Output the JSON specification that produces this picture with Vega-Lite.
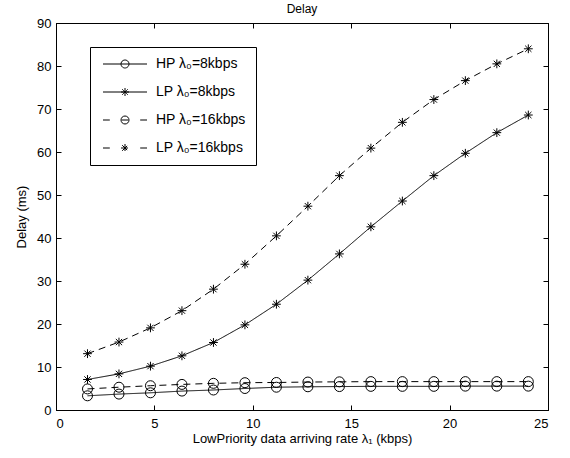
{
  "$schema": "https://vega.github.io/schema/vega-lite/v6.json",
  "width": 492,
  "height": 387,
  "autosize": "none",
  "padding": {"left": 56, "top": 23, "right": 22, "bottom": 48},
  "title": {"text": "Delay", "font": "Liberation Sans", "fontSize": 12, "fontWeight": "normal", "color": "black", "baseline": "bottom", "frame": "group", "offset": 9, "dy": 20},
  "config": {
    "view": {"stroke": "black", "strokeWidth": 1},
    "axis": {"domainColor": "black", "tickColor": "black", "labelColor": "black", "titleColor": "black", "labelFont": "Liberation Sans", "titleFont": "Liberation Sans", "labelFontSize": 13, "titleFontSize": 13, "titleFontWeight": "normal", "grid": false, "tickSize": -5, "labelPadding": 10}
  },
  "data": {"values": [
    {"rate": 1.6, "series": "HP λ₀=8kbps", "priority": "HP", "delay": 3.3},
    {"rate": 3.2, "series": "HP λ₀=8kbps", "priority": "HP", "delay": 3.7},
    {"rate": 4.8, "series": "HP λ₀=8kbps", "priority": "HP", "delay": 4.0},
    {"rate": 6.4, "series": "HP λ₀=8kbps", "priority": "HP", "delay": 4.4},
    {"rate": 8.0, "series": "HP λ₀=8kbps", "priority": "HP", "delay": 4.65},
    {"rate": 9.6, "series": "HP λ₀=8kbps", "priority": "HP", "delay": 5.0},
    {"rate": 11.2, "series": "HP λ₀=8kbps", "priority": "HP", "delay": 5.3},
    {"rate": 12.8, "series": "HP λ₀=8kbps", "priority": "HP", "delay": 5.4},
    {"rate": 14.4, "series": "HP λ₀=8kbps", "priority": "HP", "delay": 5.45},
    {"rate": 16.0, "series": "HP λ₀=8kbps", "priority": "HP", "delay": 5.5},
    {"rate": 17.6, "series": "HP λ₀=8kbps", "priority": "HP", "delay": 5.5},
    {"rate": 19.2, "series": "HP λ₀=8kbps", "priority": "HP", "delay": 5.5},
    {"rate": 20.8, "series": "HP λ₀=8kbps", "priority": "HP", "delay": 5.55},
    {"rate": 22.4, "series": "HP λ₀=8kbps", "priority": "HP", "delay": 5.55},
    {"rate": 24.0, "series": "HP λ₀=8kbps", "priority": "HP", "delay": 5.55},
    {"rate": 1.6, "series": "LP λ₀=8kbps", "priority": "LP", "delay": 7.1},
    {"rate": 3.2, "series": "LP λ₀=8kbps", "priority": "LP", "delay": 8.4},
    {"rate": 4.8, "series": "LP λ₀=8kbps", "priority": "LP", "delay": 10.2},
    {"rate": 6.4, "series": "LP λ₀=8kbps", "priority": "LP", "delay": 12.6},
    {"rate": 8.0, "series": "LP λ₀=8kbps", "priority": "LP", "delay": 15.7},
    {"rate": 9.6, "series": "LP λ₀=8kbps", "priority": "LP", "delay": 19.8},
    {"rate": 11.2, "series": "LP λ₀=8kbps", "priority": "LP", "delay": 24.6},
    {"rate": 12.8, "series": "LP λ₀=8kbps", "priority": "LP", "delay": 30.2},
    {"rate": 14.4, "series": "LP λ₀=8kbps", "priority": "LP", "delay": 36.3},
    {"rate": 16.0, "series": "LP λ₀=8kbps", "priority": "LP", "delay": 42.6},
    {"rate": 17.6, "series": "LP λ₀=8kbps", "priority": "LP", "delay": 48.6},
    {"rate": 19.2, "series": "LP λ₀=8kbps", "priority": "LP", "delay": 54.5},
    {"rate": 20.8, "series": "LP λ₀=8kbps", "priority": "LP", "delay": 59.7},
    {"rate": 22.4, "series": "LP λ₀=8kbps", "priority": "LP", "delay": 64.5},
    {"rate": 24.0, "series": "LP λ₀=8kbps", "priority": "LP", "delay": 68.6},
    {"rate": 1.6, "series": "HP λ₀=16kbps", "priority": "HP", "delay": 4.9},
    {"rate": 3.2, "series": "HP λ₀=16kbps", "priority": "HP", "delay": 5.3},
    {"rate": 4.8, "series": "HP λ₀=16kbps", "priority": "HP", "delay": 5.65},
    {"rate": 6.4, "series": "HP λ₀=16kbps", "priority": "HP", "delay": 5.95},
    {"rate": 8.0, "series": "HP λ₀=16kbps", "priority": "HP", "delay": 6.2},
    {"rate": 9.6, "series": "HP λ₀=16kbps", "priority": "HP", "delay": 6.35},
    {"rate": 11.2, "series": "HP λ₀=16kbps", "priority": "HP", "delay": 6.4},
    {"rate": 12.8, "series": "HP λ₀=16kbps", "priority": "HP", "delay": 6.5},
    {"rate": 14.4, "series": "HP λ₀=16kbps", "priority": "HP", "delay": 6.55},
    {"rate": 16.0, "series": "HP λ₀=16kbps", "priority": "HP", "delay": 6.6},
    {"rate": 17.6, "series": "HP λ₀=16kbps", "priority": "HP", "delay": 6.6},
    {"rate": 19.2, "series": "HP λ₀=16kbps", "priority": "HP", "delay": 6.6},
    {"rate": 20.8, "series": "HP λ₀=16kbps", "priority": "HP", "delay": 6.6},
    {"rate": 22.4, "series": "HP λ₀=16kbps", "priority": "HP", "delay": 6.6},
    {"rate": 24.0, "series": "HP λ₀=16kbps", "priority": "HP", "delay": 6.6},
    {"rate": 1.6, "series": "LP λ₀=16kbps", "priority": "LP", "delay": 13.1},
    {"rate": 3.2, "series": "LP λ₀=16kbps", "priority": "LP", "delay": 15.8},
    {"rate": 4.8, "series": "LP λ₀=16kbps", "priority": "LP", "delay": 19.1},
    {"rate": 6.4, "series": "LP λ₀=16kbps", "priority": "LP", "delay": 23.1},
    {"rate": 8.0, "series": "LP λ₀=16kbps", "priority": "LP", "delay": 28.1},
    {"rate": 9.6, "series": "LP λ₀=16kbps", "priority": "LP", "delay": 33.9},
    {"rate": 11.2, "series": "LP λ₀=16kbps", "priority": "LP", "delay": 40.5},
    {"rate": 12.8, "series": "LP λ₀=16kbps", "priority": "LP", "delay": 47.4},
    {"rate": 14.4, "series": "LP λ₀=16kbps", "priority": "LP", "delay": 54.5},
    {"rate": 16.0, "series": "LP λ₀=16kbps", "priority": "LP", "delay": 60.9},
    {"rate": 17.6, "series": "LP λ₀=16kbps", "priority": "LP", "delay": 66.9},
    {"rate": 19.2, "series": "LP λ₀=16kbps", "priority": "LP", "delay": 72.2},
    {"rate": 20.8, "series": "LP λ₀=16kbps", "priority": "LP", "delay": 76.6},
    {"rate": 22.4, "series": "LP λ₀=16kbps", "priority": "LP", "delay": 80.5},
    {"rate": 24.0, "series": "LP λ₀=16kbps", "priority": "LP", "delay": 84.0}
  ]},
  "layer": [
    {
      "mark": {"type": "line", "color": "black", "strokeWidth": 1},
      "encoding": {
        "x": {"field": "rate", "type": "quantitative", "scale": {"domain": [0, 25], "nice": false, "zero": false},
              "axis": {"orient": "bottom", "values": [0, 5, 10, 15, 20, 25], "title": "LowPriority data arriving rate λ₁ (kbps)", "titlePadding": 2, "labelPadding": 12}},
        "y": {"field": "delay", "type": "quantitative", "scale": {"domain": [0, 90], "nice": false},
              "axis": {"orient": "left", "values": [0, 10, 20, 30, 40, 50, 60, 70, 80, 90], "title": "Delay (ms)", "titlePadding": 8}},
        "detail": {"field": "series", "type": "nominal"},
        "strokeDash": {"field": "series", "type": "nominal",
          "scale": {"domain": ["HP λ₀=8kbps", "LP λ₀=8kbps", "HP λ₀=16kbps", "LP λ₀=16kbps"], "range": [[1, 0], [1, 0], [7, 5], [7, 5]]},
          "legend": {
            "title": null, "orient": "none", "legendX": 34, "legendY": 24,
            "strokeColor": "black", "fillColor": "white", "padding": 10, "cornerRadius": 0,
            "labelFont": "Liberation Sans", "labelFontSize": 14, "labelColor": "black", "labelOffset": 42, "labelLimit": 200,
            "rowPadding": 14, "symbolSize": 64, "symbolStrokeWidth": 1, "symbolStrokeColor": "black", "symbolFillColor": "transparent", "symbolOpacity": 1,
            "encode": {"symbols": {"update": {
              "shape": {"signal": "datum.value === 'HP λ₀=8kbps' ? 'M-1,0L10,0M3.5,0A1,1 0 1,1 5.5,0A1,1 0 1,1 3.5,0' : datum.value === 'LP λ₀=8kbps' ? 'M-1,0L10,0M3.5,0L5.5,0M4.5,-1L4.5,1M3.8,-0.7L5.2,0.7M3.8,0.7L5.2,-0.7' : datum.value === 'HP λ₀=16kbps' ? 'M-1,0L0.7,0M3.7,0L5.3,0M8.3,0L10,0M3.5,0A1,1 0 0,1 4.5,-1M4.5,-1A1,1 0 0,1 5.5,0M5.5,0A1,1 0 0,1 4.5,1M4.5,1A1,1 0 0,1 3.5,0' : 'M-1,0L0.7,0M8.3,0L10,0M3.5,0L5.5,0M4.5,-1L4.5,1M3.8,-0.7L5.2,0.7M3.8,0.7L5.2,-0.7'"},
              "size": {"value": 64},
              "fill": {"value": "transparent"},
              "stroke": {"value": "black"},
              "strokeWidth": {"value": 1},
              "opacity": {"value": 1}
            }}}
          }}
      }
    },
    {
      "mark": {"type": "point", "filled": false, "color": "black", "strokeWidth": 1, "size": 64, "opacity": 1},
      "encoding": {
        "x": {"field": "rate", "type": "quantitative", "scale": {"domain": [0, 25], "nice": false, "zero": false},
              "axis": {"orient": "top", "values": [0, 5, 10, 15, 20, 25], "labels": false, "title": null}},
        "y": {"field": "delay", "type": "quantitative", "scale": {"domain": [0, 90], "nice": false},
              "axis": {"orient": "right", "values": [0, 10, 20, 30, 40, 50, 60, 70, 80, 90], "labels": false, "title": null}},
        "shape": {"field": "priority", "type": "nominal",
          "scale": {"domain": ["HP", "LP"],
                    "range": ["M-1.25,0A1.25,1.25 0 1,1 1.25,0A1.25,1.25 0 1,1 -1.25,0Z", "M-1.1,0L1.1,0M0,-1.1L0,1.1M-0.78,-0.78L0.78,0.78M-0.78,0.78L0.78,-0.78"]},
          "legend": null}
      }
    }
  ],
  "resolve": {"axis": {"x": "independent", "y": "independent"}}
}
